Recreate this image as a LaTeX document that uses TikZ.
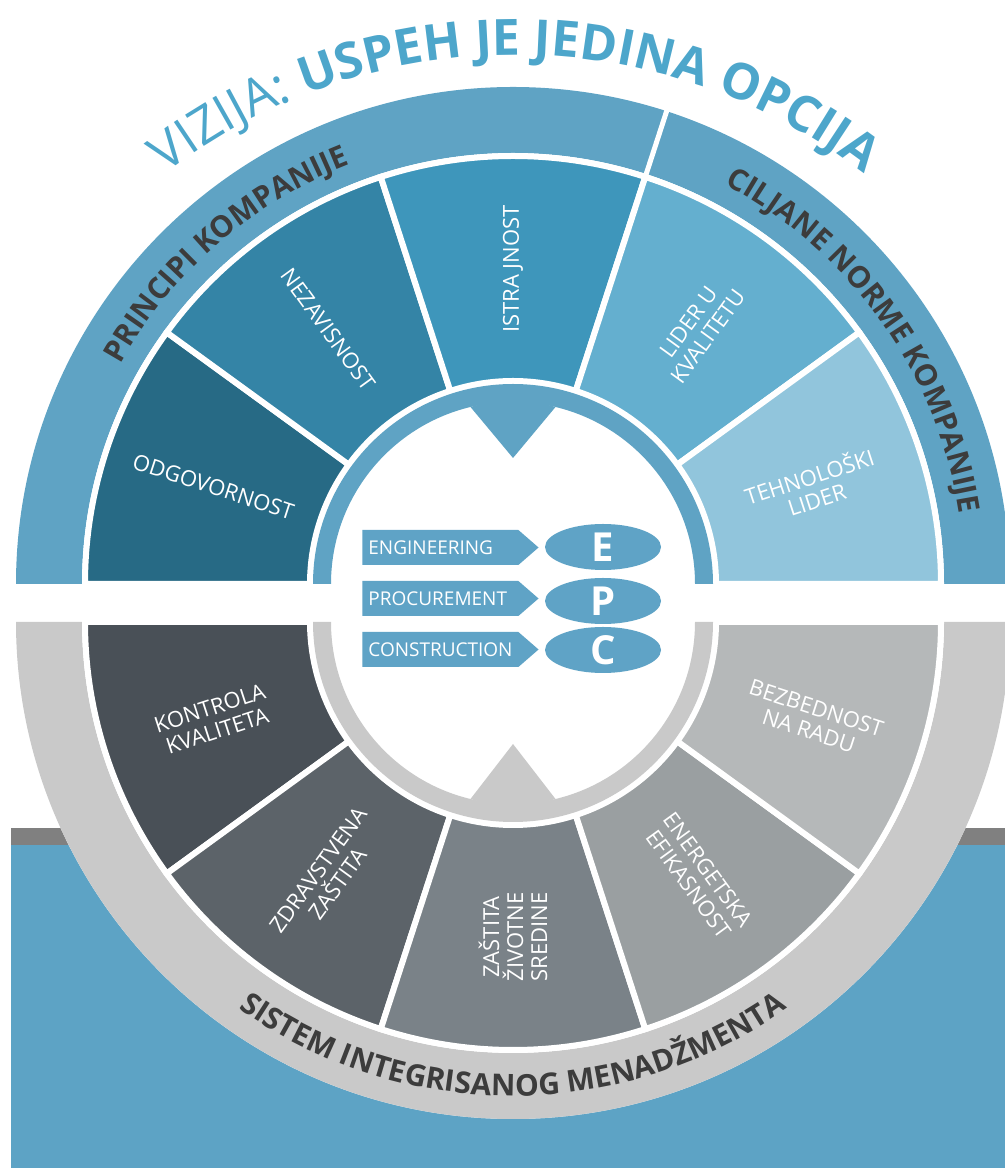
\documentclass[tikz,border=0pt]{standalone}
\usepackage{fontspec}
\setmainfont{Open Sans}
\usetikzlibrary{shapes,decorations.text}

\definecolor{ringblue}{HTML}{5FA3C4}
\definecolor{ringgray}{HTML}{C9C9C9}
\definecolor{odgcol}{HTML}{276A85}
\definecolor{nezcol}{HTML}{3484A6}
\definecolor{istcol}{HTML}{3E96BB}
\definecolor{lidcol}{HTML}{64AFCF}
\definecolor{tehcol}{HTML}{91C5DC}
\definecolor{kontcol}{HTML}{495057}
\definecolor{zdrcol}{HTML}{5C6369}
\definecolor{zascol}{HTML}{7A8288}
\definecolor{enecol}{HTML}{9A9FA1}
\definecolor{bezcol}{HTML}{B5B8B9}
\definecolor{bgblue}{HTML}{5DA3C5}
\definecolor{stripgray}{HTML}{808080}
\definecolor{titleblue}{HTML}{4DA6CB}
\definecolor{ringtext}{HTML}{3C3C3C}
\definecolor{epcblue}{HTML}{5FA3C6}

\begin{document}
\begin{tikzpicture}[x=0.5pt,y=0.5pt]

\def\rin{203}
\def\rout{428}
\def\ringin{431}
\def\ringout{497}
\def\ringcut{505}
\def\labrad{315}

\def\titlelight{\fontsize{25.5}{25.5}\selectfont}
\def\titlebold{\fontsize{25}{25}\selectfont\bfseries}
\def\ringfont{\fontsize{15}{15}\selectfont\bfseries}

\tikzstyle{segment}=[draw=white,line width=3pt]
\tikzstyle{seglabel}=[text=white,font=\fontsize{11}{12}\selectfont,align=center,inner sep=0pt]
\tikzstyle{epcbox}=[signal,signal to=east,signal pointer angle=82,fill=epcblue,text=white,minimum height=17.5pt,text width=72pt,inner xsep=3pt,inner ysep=0pt,align=left,font=\fontsize{9.5}{11}\selectfont,anchor=west]
\tikzstyle{epcletter}=[ellipse,fill=epcblue,text=white,minimum width=58pt,minimum height=23pt,inner sep=0pt,font=\fontsize{20}{20}\selectfont\bfseries]

\def\sector#1#2#3#4{\filldraw[segment,fill=#1] ([shift={(#3:\rin)}]#2) arc[start angle=#3,end angle=#4,radius=\rin] -- ([shift={(#4:\rout)}]#2) arc[start angle=#4,end angle=#3,radius=\rout] -- cycle;}

\useasboundingbox (0,0) rectangle (1005,1168);

\coordinate (cu) at (513,584);
\coordinate (cl) at (513,546);
\coordinate (ct) at (515,541);

%background
\fill[bgblue] (11,0) rectangle (1005,323);
\fill[stripgray] (11,323) rectangle (1005,340);

%upper ring
\fill[ringblue] ([shift={(0:\ringin)}]cu) arc[start angle=0,end angle=180,radius=\ringin] -- ([shift={(180:\ringout)}]cu) arc[start angle=180,end angle=0,radius=\ringout] -- cycle;
\draw[white,line width=2.5pt] ([shift={(72:\rout)}]cu) -- ([shift={(72:\ringcut)}]cu);

%upper segments
\sector{odgcol}{cu}{144}{180}
\sector{nezcol}{cu}{108}{144}
\sector{istcol}{cu}{72}{108}
\sector{lidcol}{cu}{36}{72}
\sector{tehcol}{cu}{0}{36}

\node[seglabel,rotate=-18] (odg) at ([shift={(162:\labrad)}]cu) {ODGOVORNOST};
\node[seglabel,rotate=-54] (nez) at ([shift={(126:\labrad)}]cu) {NEZAVISNOST};
\node[seglabel,rotate=90] (ist) at ([shift={(90:\labrad)}]cu) {ISTRA JNOST};
\node[seglabel,rotate=54] (lid) at ([shift={(54:\labrad)}]cu) {LIDER U\\KVALITETU};
\node[seglabel,rotate=18] (teh) at ([shift={(18:\labrad)}]cu) {TEHNOLOŠKI\\LIDER};

%upper inner ring
\fill[ringblue] ([shift={(0:182)}]cu) arc[start angle=0,end angle=180,radius=182] -- ([shift={(180:200)}]cu) arc[start angle=180,end angle=0,radius=200] -- cycle;
\fill[ringblue] ([shift={(76.5:182)}]cu) -- ([shift={(90:126)}]cu) -- ([shift={(103.5:182)}]cu) -- ([shift={(90:190)}]cu) -- cycle;

%lower ring
\fill[white] ([shift={(180:\ringout)}]cl) arc[start angle=180,end angle=360,radius=\ringout] -- cycle;
\fill[ringgray] ([shift={(180:\ringin)}]cl) arc[start angle=180,end angle=360,radius=\ringin] -- ([shift={(360:\ringout)}]cl) arc[start angle=360,end angle=180,radius=\ringout] -- cycle;

%lower segments
\sector{kontcol}{cl}{180}{216}
\sector{zdrcol}{cl}{216}{252}
\sector{zascol}{cl}{252}{288}
\sector{enecol}{cl}{288}{324}
\sector{bezcol}{cl}{324}{360}

\node[seglabel,rotate=18] (kont) at ([shift={(198:\labrad)}]cl) {KONTROLA\\KVALITETA};
\node[seglabel,rotate=54] (zdr) at ([shift={(234:\labrad)}]cl) {ZDRAVSTVENA\\ZAŠTITA};
\node[seglabel,rotate=90] (zas) at ([shift={(270:\labrad)}]cl) {ZAŠTITA\\ŽIVOTNE\\SREDINE};
\node[seglabel,rotate=-54] (ene) at ([shift={(306:\labrad)}]cl) {ENERGETSKA\\EFIKASNOST};
\node[seglabel,rotate=-18] (bez) at ([shift={(342:\labrad)}]cl) {BEZBEDNOST\\NA RADU};

%lower inner ring
\fill[ringgray] ([shift={(180:182)}]cl) arc[start angle=180,end angle=360,radius=182] -- ([shift={(360:200)}]cl) arc[start angle=360,end angle=180,radius=200] -- cycle;
\fill[ringgray] ([shift={(256.5:182)}]cl) -- ([shift={(270:122)}]cl) -- ([shift={(283.5:182)}]cl) -- ([shift={(270:190)}]cl) -- cycle;

%ring titles
\path[decorate,decoration={text along path,text align=center,text color=titleblue,text={|\titlelight|VIZIJA: |\titlebold|USPEH JE JEDINA OPCIJA}}] ([shift={(135:572)}]ct) arc[start angle=135,end angle=45,radius=572];
\path[decorate,decoration={text along path,text align=center,text color=ringtext,text={|\ringfont|PRINCIPI KOMPANIJE}}] ([shift={(156:450)}]cu) arc[start angle=156,end angle=106,radius=450];
\path[decorate,decoration={text along path,text align=center,text color=ringtext,text={|\ringfont|CILJANE NORME KOMPANIJE}}] ([shift={(66:452)}]cu) arc[start angle=66,end angle=5,radius=452];
\path[decorate,decoration={text along path,text align=center,text color=ringtext,text={|\ringfont|SISTEM INTEGRISANOG MENADŽMENTA}}] ([shift={(-130:474)}]cl) arc[start angle=-130,end angle=-50,radius=474];

%epc
\node[epcbox] (eng) at (362,620.5) {ENGINEERING};
\node[epcbox] (pro) at (362,569.5) {PROCUREMENT};
\node[epcbox] (con) at (362,518.5) {CONSTRUCTION};
\node[epcletter] (e) at (603,621) {E};
\node[epcletter] (p) at (603,567) {P};
\node[epcletter] (c) at (603,518) {C};

\end{tikzpicture}
\end{document}
